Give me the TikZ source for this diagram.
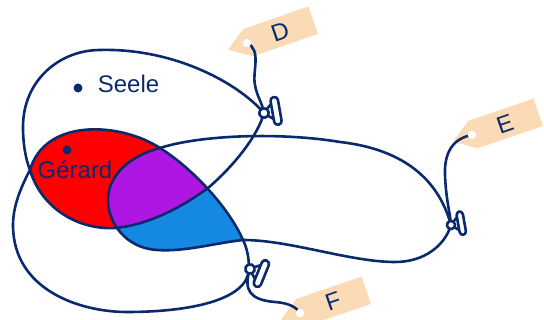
\documentclass[tikz,border=0pt]{standalone}
\usepackage{fontspec}
\setmainfont{Liberation Sans}
\definecolor{navy}{HTML}{0B2A6E}
\definecolor{lensred}{HTML}{FF0000}
\definecolor{lenspurple}{HTML}{AE17E3}
\definecolor{lensblue}{HTML}{1589E2}
\definecolor{tagpeach}{HTML}{FBDBB6}

% the three drawstring bags
\newcommand\bagD{(264,113) .. controls (235,80) and (170,48) .. (100,50)
  .. controls (60,50) and (23,80) .. (23,127)
  .. controls (23,145) and (26,160) .. (30,170)
  .. controls (42,210) and (80,230) .. (115,228)
  .. controls (150,225) and (185,205) .. (208,188)
  .. controls (235,165) and (258,135) .. (264,113) -- cycle}
\newcommand\bagE{(451,225) .. controls (440,185) and (410,150) .. (340,142)
  .. controls (280,132) and (200,135) .. (160,148)
  .. controls (130,156) and (108,175) .. (108,200)
  .. controls (108,222) and (125,248) .. (157,250)
  .. controls (185,252) and (215,243) .. (243,240)
  .. controls (290,240) and (350,262) .. (395,262)
  .. controls (425,262) and (445,245) .. (451,225) -- cycle}
\newcommand\bagF{(249,268) .. controls (249,258) and (247,248) .. (243,240)
  .. controls (230,210) and (195,170) .. (160,148)
  .. controls (120,122) and (45,118) .. (30,170)
  .. controls (22,185) and (13,205) .. (13,225)
  .. controls (13,290) and (80,312) .. (127,312)
  .. controls (190,312) and (249,300) .. (249,268) -- cycle}

\tikzset{
  cord/.style={draw=navy, line width=2.6pt, line join=round},
  dot/.style={circle, fill=navy, inner sep=0pt, minimum size=9pt},
  setlabel/.style={text=navy, font=\fontsize{24}{28}\selectfont, inner sep=0pt, anchor=base},
  tagletter/.style={text=navy, font=\fontsize{24}{28}\selectfont, inner sep=0pt, rotate=19},
  stopper/.pic={
    \draw[cord, fill=white] (3,-3) -- (9,-8) -- (9,8) -- (3,3) -- cycle;
    \draw[cord, fill=white, rounded corners=3.5pt] (8.5,-14) rectangle (16,14);
    \draw[cord, fill=white] (0,0) circle (4.8);
  },
  tag/.pic={
    \fill[tagpeach] (-20,0) -- (1,-14.5) -- (70,-14.5) -- (70,14.5) -- (1,14.5) -- cycle;
    \node[tagletter] at (35,0) {#1};
  }
}

\begin{document}
\begin{tikzpicture}[x=1pt, y=-1pt]
\useasboundingbox (0,0) rectangle (544,320);

% fills
\begin{scope} \clip \bagE; \clip \bagF; \fill[lensblue] (0,0) rectangle (544,320); \end{scope}
\begin{scope} \clip \bagD; \clip \bagF; \fill[lensred] (0,0) rectangle (544,320); \end{scope}
\begin{scope} \clip \bagD; \clip \bagE; \clip \bagF; \fill[lenspurple] (0,0) rectangle (544,320); \end{scope}

\draw[cord] \bagD;
\draw[cord] \bagE;
\draw[cord] \bagF;

\node[dot] (seeledot) at (78,88) {};
\node[setlabel] (seele) at (128.5,92.5) {Seele};
\node[dot] (gerarddot) at (67,150) {};
\node[setlabel] (gerard) at (75,178.3) {Gérard};

\coordinate (knotD) at (264,113);
\coordinate (knotE) at (451,225);
\coordinate (knotF) at (250,269);
\coordinate (holeD) at (247,43);
\coordinate (holeE) at (472,135);
\coordinate (holeF) at (300,313);

% tags and strings
\pic[rotate=19] at (holeD) {tag=D};
\pic[rotate=19] at (holeE) {tag=E};
\pic[rotate=19] at (holeF) {tag=F};
\draw[cord] (holeD) .. controls (262,50) and (252,72) .. (255,85)
  .. controls (257,97) and (262,102) .. (knotD);
\draw[cord] (holeE) .. controls (455,138) and (444,150) .. (445,175)
  .. controls (446,200) and (450,212) .. (knotE);
\draw[cord] (knotF) .. controls (243,290) and (250,300) .. (275,302)
  .. controls (290,303) and (297,308) .. (holeF);
\foreach \h in {holeD,holeE,holeF}
  \fill[white] (\h) circle (4.2);

% cord locks
\pic[rotate=10] at (knotD) {stopper};
\pic[rotate=10, scale=0.85] at (knotE) {stopper};
\pic[rotate=-22] at (knotF) {stopper};
\end{tikzpicture}
\end{document}
